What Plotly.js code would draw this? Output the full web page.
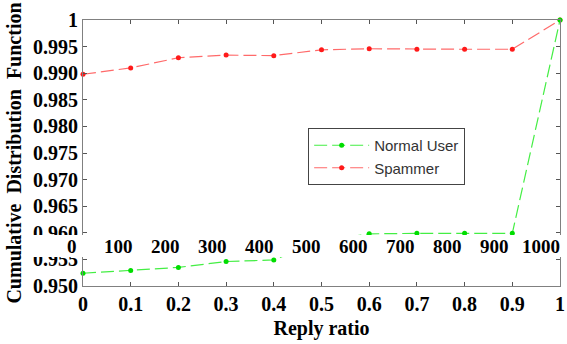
<!DOCTYPE html>
<html><head><meta charset="utf-8">
<script src="https://cdn.plot.ly/plotly-3.0.1.min.js"></script>
<style>html,body{margin:0;padding:0;background:#fff;}</style>
</head><body>
<div id="chart" style="width:567px;height:344px;"></div>
<script>
var replyRatio = [0, 0.1, 0.2, 0.3, 0.4, 0.5, 0.6, 0.7, 0.8, 0.9, 1.0];
var spammerCdf = [0.9898, 0.9910, 0.9929, 0.9934, 0.9933, 0.9944, 0.9946, 0.9945, 0.9945, 0.9945, 1.0];
var normalCdf  = [0.9524, 0.9529, 0.9535, 0.9546, 0.9549, 0.9585, 0.9598, 0.9599, 0.9599, 0.9599, 1.0];
var xTickVals = [0, 0.1, 0.2, 0.3, 0.4, 0.5, 0.6, 0.7, 0.8, 0.9, 1];
var xTickText = ['0', '0.1', '0.2', '0.3', '0.4', '0.5', '0.6', '0.7', '0.8', '0.9', '1'];
var yTickVals = [0.95, 0.955, 0.96, 0.965, 0.97, 0.975, 0.98, 0.985, 0.99, 0.995, 1];
var yTickText = ['0.950', '0.955', '0.960', '0.965', '0.970', '0.975', '0.980', '0.985', '0.990', '0.995', '1'];
var overlayLabels = ['0', '100', '200', '300', '400', '500', '600', '700', '800', '900', '1000'];

var serifBold = {family: 'Liberation Serif, Times New Roman, serif', size: 20, color: '#000', weight: 'bold'};

var traces = [
  {x: replyRatio, y: spammerCdf, name: 'Spammer', type: 'scatter', mode: 'lines+markers',
   line: {color: '#ff6a6a', width: 1.2, dash: '13px,5px'},
   marker: {color: '#ff1a1a', size: 5}, cliponaxis: false},
  {x: replyRatio, y: normalCdf, name: 'Normal User', type: 'scatter', mode: 'lines+markers',
   line: {color: '#44ee44', width: 1.2, dash: '13px,5px'},
   marker: {color: '#00dd00', size: 5}, cliponaxis: false}
];

var annotations = overlayLabels.map(function(t, i) {
  return {text: '<b>' + t + '</b>', xref: 'paper', yref: 'paper',
    x: -0.024 + 0.0985 * i, y: 0.150, xanchor: 'center', yanchor: 'middle',
    showarrow: false, font: {family: 'Liberation Serif, Times New Roman, serif', size: 19, color: '#000'}};
});

var layout = {
  width: 567, height: 344,
  margin: {l: 83, r: 7, t: 20, b: 58},
  paper_bgcolor: '#fff', plot_bgcolor: '#fff',
  showlegend: true,
  legend: {x: 0.472, y: 0.594, xanchor: 'left', yanchor: 'top', traceorder: 'reversed',
    bordercolor: '#444', borderwidth: 1, bgcolor: '#fff',
    font: {family: 'Liberation Sans, Arial, sans-serif', size: 15, color: '#333'},
    tracegroupgap: 0, itemwidth: 55},
  xaxis: {range: [0, 1], tickvals: xTickVals, ticktext: xTickText, ticks: 'inside', ticklen: 4,
    tickcolor: '#555', showline: true, linecolor: '#808080', linewidth: 1, mirror: 'ticks',
    showgrid: false, zeroline: false, tickfont: serifBold, ticklabeloverflow: 'allow',
    title: {text: 'Reply ratio', font: serifBold, standoff: 6}},
  yaxis: {range: [0.95, 1], tickvals: yTickVals, ticktext: yTickText, ticks: 'inside', ticklen: 4,
    tickcolor: '#555', showline: true, linecolor: '#808080', linewidth: 1, mirror: 'ticks',
    showgrid: false, zeroline: false, tickfont: serifBold, ticklabeloverflow: 'allow',
    title: {text: 'Cumulative\u00a0\u00a0Distribution\u00a0\u00a0Function', font: serifBold, standoff: 6}},
  shapes: [{type: 'rect', xref: 'paper', yref: 'paper', x0: -0.11, x1: 1.02, y0: 0.109, y1: 0.1917,
    fillcolor: '#fff', line: {width: 0}, layer: 'above'}],
  annotations: annotations
};

Plotly.newPlot('chart', traces, layout, {displayModeBar: false, staticPlot: true});
</script>
</body></html>
